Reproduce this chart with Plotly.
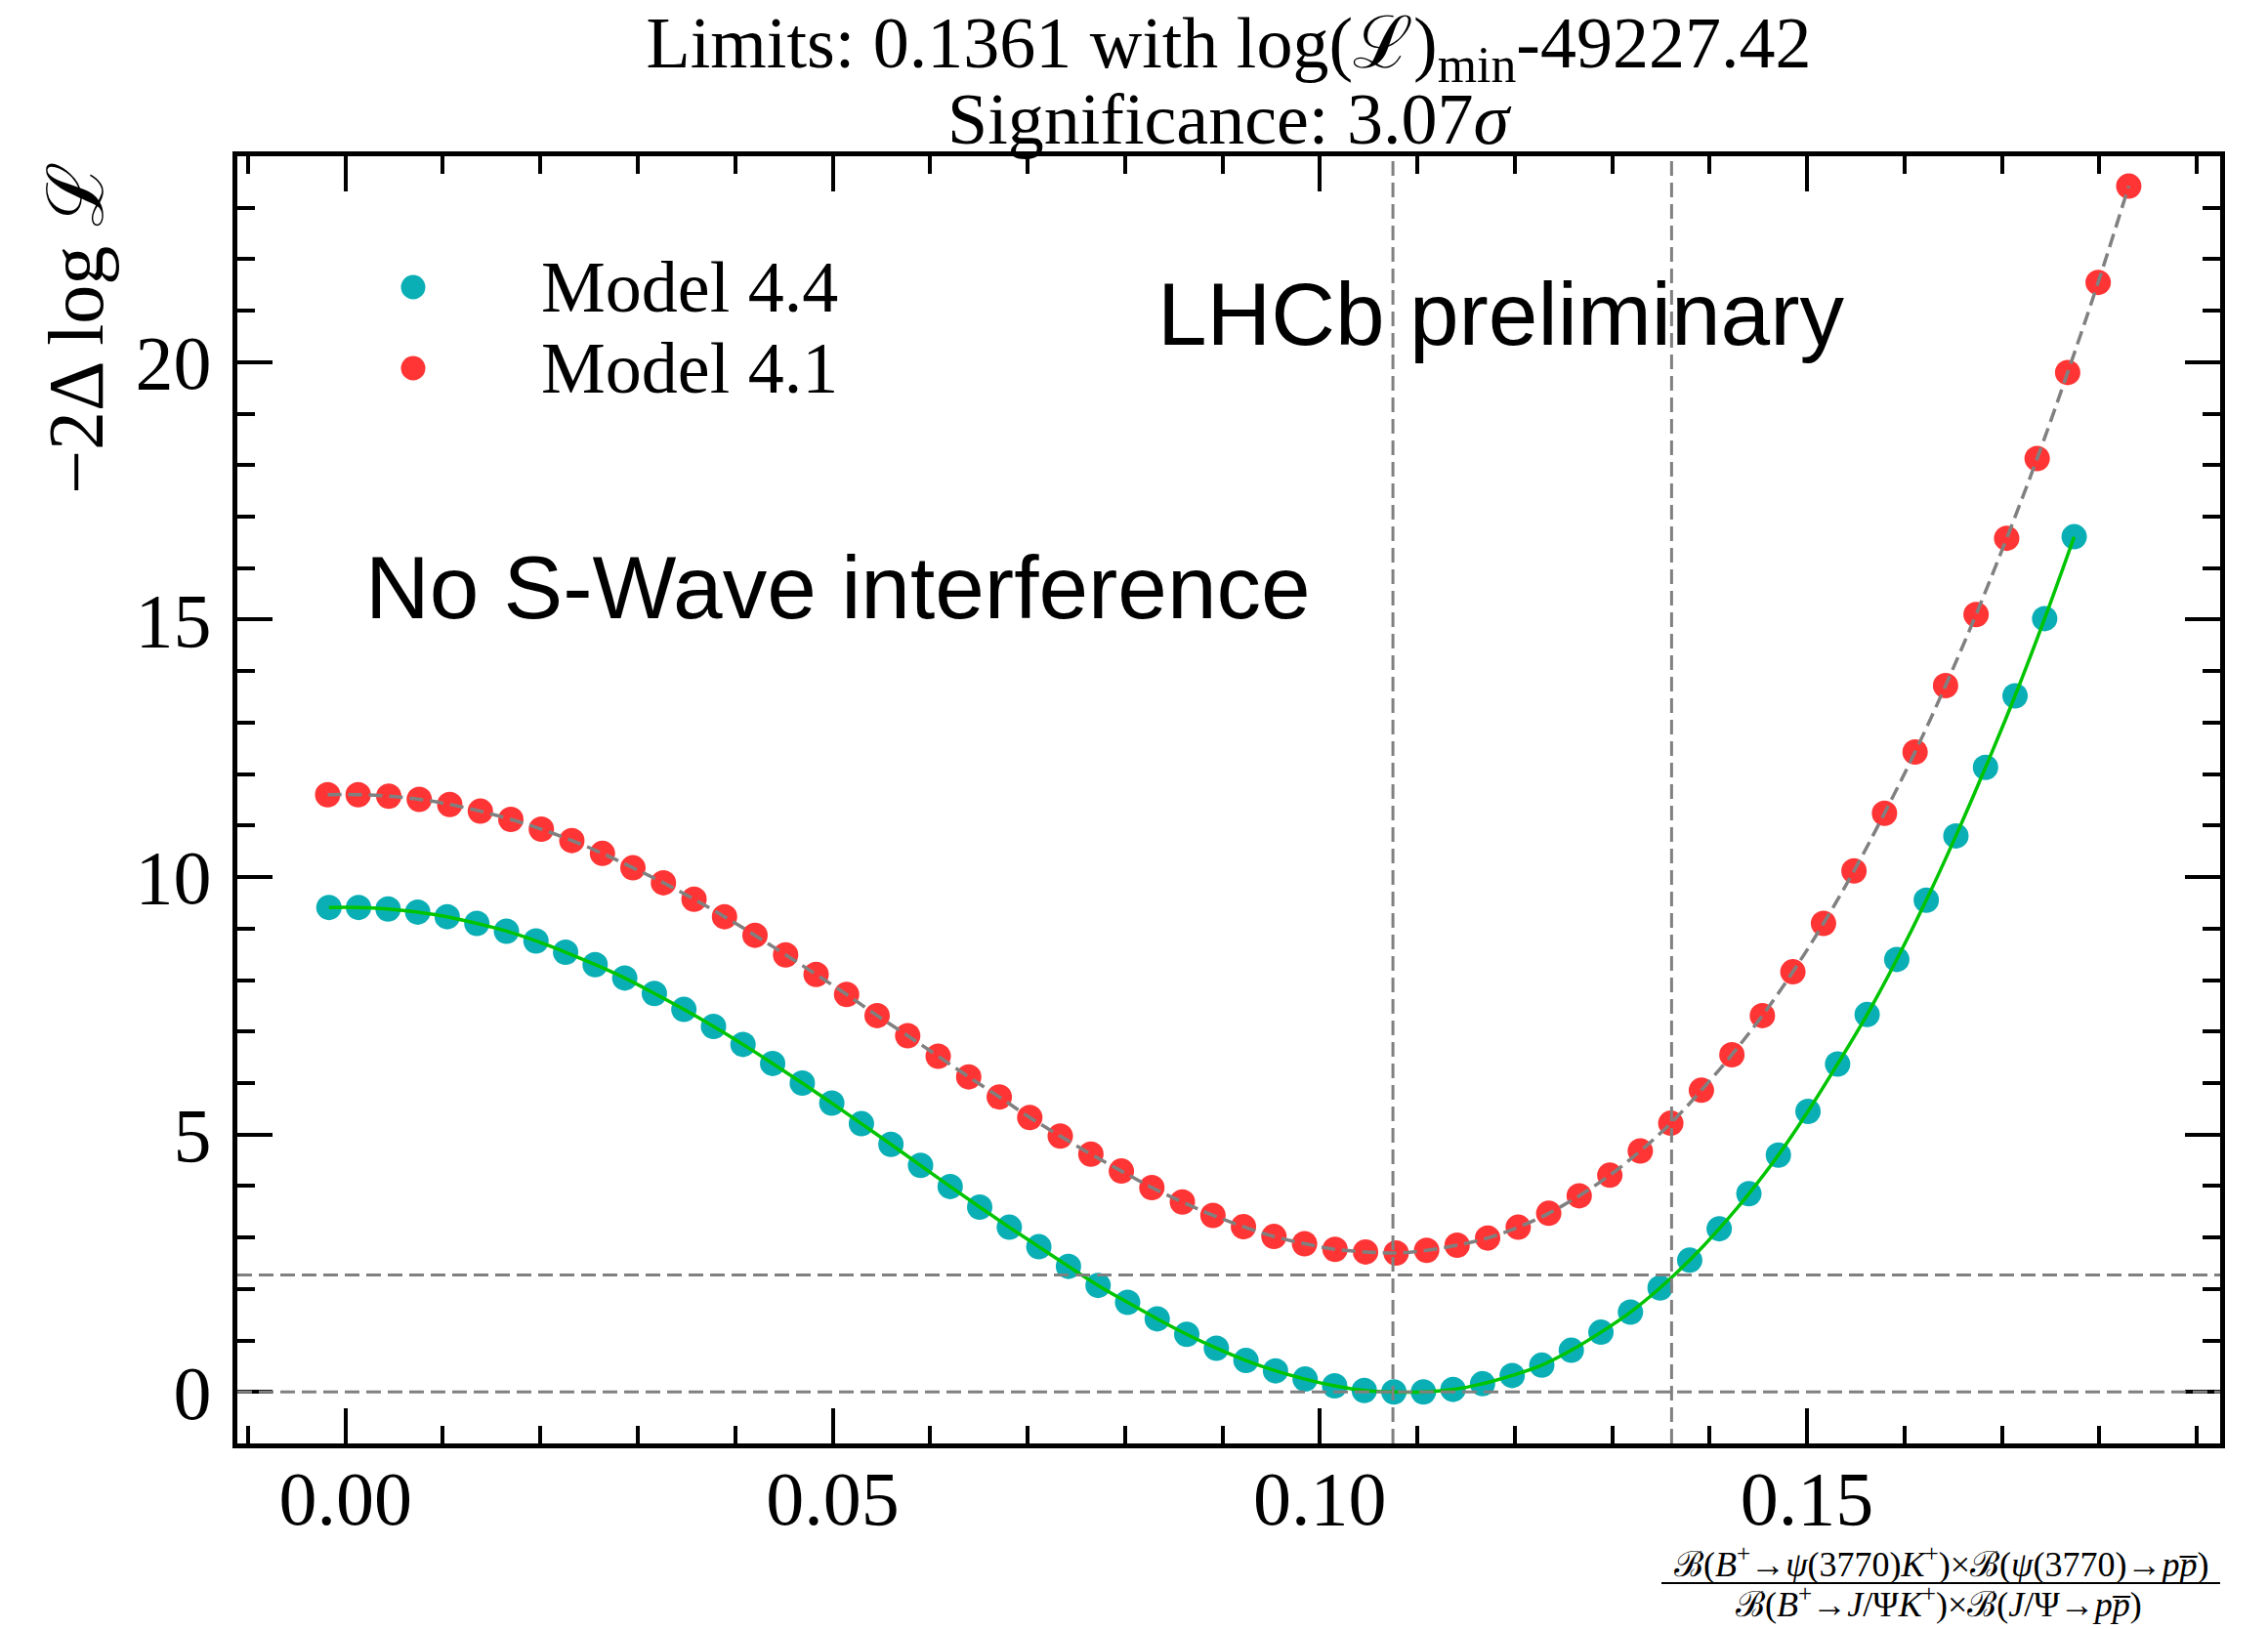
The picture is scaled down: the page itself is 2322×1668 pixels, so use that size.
import plotly.graph_objects as go

# ---------------- data ----------------
x_model44 = [-0.00170, 0.00134, 0.00437, 0.00741, 0.01044, 0.01348, 0.01652, 0.01955, 0.02259, 0.02562,
             0.02866, 0.03170, 0.03473, 0.03777, 0.04080, 0.04384, 0.04688, 0.04991, 0.05295, 0.05598,
             0.05902, 0.06206, 0.06509, 0.06813, 0.07116, 0.07420, 0.07724, 0.08027, 0.08331, 0.08634,
             0.08938, 0.09242, 0.09545, 0.09849, 0.10152, 0.10456, 0.10760, 0.11063, 0.11367, 0.11670,
             0.11974, 0.12278, 0.12581, 0.12885, 0.13188, 0.13492, 0.13796, 0.14099, 0.14403, 0.14706,
             0.15010, 0.15314, 0.15617, 0.15921, 0.16224, 0.16528, 0.16832, 0.17135, 0.17439, 0.17742]
y_model44 = [9.41, 9.41, 9.38, 9.32, 9.23, 9.10, 8.95, 8.76, 8.54, 8.30,
             8.04, 7.74, 7.43, 7.10, 6.75, 6.38, 6.00, 5.61, 5.21, 4.81,
             4.40, 3.99, 3.59, 3.20, 2.82, 2.44, 2.07, 1.74, 1.42, 1.12,
             0.85, 0.61, 0.41, 0.25, 0.12, 0.03, 0.00, 0.00, 0.05, 0.16,
             0.32, 0.52, 0.81, 1.16, 1.55, 2.02, 2.56, 3.17, 3.85, 4.60,
             5.45, 6.37, 7.33, 8.40, 9.55, 10.80, 12.13, 13.52, 15.02, 16.61]

x_model41 = [-0.00183, 0.00130, 0.00444, 0.00757, 0.01070, 0.01384, 0.01697, 0.02010, 0.02323, 0.02637,
             0.02950, 0.03263, 0.03577, 0.03890, 0.04203, 0.04517, 0.04830, 0.05143, 0.05456, 0.05770,
             0.06083, 0.06396, 0.06710, 0.07023, 0.07336, 0.07650, 0.07963, 0.08276, 0.08589, 0.08903,
             0.09216, 0.09529, 0.09843, 0.10156, 0.10469, 0.10783, 0.11096, 0.11409, 0.11722, 0.12036,
             0.12349, 0.12662, 0.12976, 0.13289, 0.13602, 0.13916, 0.14229, 0.14542, 0.14855, 0.15169,
             0.15482, 0.15795, 0.16109, 0.16422, 0.16735, 0.17049, 0.17362, 0.17675, 0.17988, 0.18302]
y_model41 = [11.60, 11.60, 11.57, 11.51, 11.41, 11.28, 11.12, 10.93, 10.71, 10.46,
             10.18, 9.89, 9.57, 9.23, 8.87, 8.49, 8.11, 7.72, 7.31, 6.92,
             6.52, 6.12, 5.73, 5.33, 4.97, 4.62, 4.29, 3.97, 3.69, 3.43,
             3.21, 3.02, 2.88, 2.77, 2.72, 2.70, 2.75, 2.85, 2.99, 3.20,
             3.47, 3.81, 4.21, 4.68, 5.22, 5.86, 6.55, 7.31, 8.16, 9.10,
             10.12, 11.24, 12.43, 13.72, 15.10, 16.58, 18.13, 19.80, 21.55, 23.42]

best_fit_x = 0.1075
limit_x = 0.1361
threshold_y = 2.27
zero_y = 0.0

x_range = [-0.0111, 0.1924]
y_range = [-1.0, 24.0]

series_names = ["Model 4.4", "Model 4.1"]
title_line1 = "Limits: 0.1361 with log(ℒ)<sub>min</sub>-49227.42"
title_line2 = "Significance: 3.07<i>σ</i>"
y_label = "−2Δ log ℒ"
x_label_num = "ℬ(<i>B</i><sup>+</sup>→<i>ψ</i>(3770)<i>K</i><sup>+</sup>)×ℬ(<i>ψ</i>(3770)→<i>p</i><i>p̅</i>)"
x_label_den = "ℬ(<i>B</i><sup>+</sup>→<i>J</i>/Ψ<i>K</i><sup>+</sup>)×ℬ(<i>J</i>/Ψ→<i>p</i><i>p̅</i>)"

# ---------------- styling ----------------
W, H = 2322, 1668
ML, MR, MT, MB = 243, 49, 160, 190
TEAL = "#0aafb6"
RED = "#ff3535"
GREEN = "#00c400"
GRAY = "#808080"
SERIF = "Liberation Serif, Times New Roman, DejaVu Serif, serif"
SANS = "Liberation Sans, Arial, Helvetica, sans-serif"


def pxx(xp):
    return (xp - ML) / (W - ML - MR)


def pxy(yp):
    return (H - MB - yp) / (H - MT - MB)


fig = go.Figure()

fig.add_trace(go.Scatter(x=x_model44, y=y_model44, mode="markers", name=series_names[0],
                         marker=dict(color=TEAL, size=26, line=dict(width=0)), showlegend=False))
fig.add_trace(go.Scatter(x=x_model41, y=y_model41, mode="markers", name=series_names[1],
                         marker=dict(color=RED, size=26, line=dict(width=0)), showlegend=False))
fig.add_trace(go.Scatter(x=x_model44, y=y_model44, mode="lines", line_shape="spline",
                         line=dict(color=GREEN, width=3.5), showlegend=False, hoverinfo="skip"))
fig.add_trace(go.Scatter(x=x_model41, y=y_model41, mode="lines", line_shape="spline",
                         line=dict(color=GRAY, width=3.5, dash="14px,7px"), showlegend=False,
                         hoverinfo="skip"))

shapes = []
for xv in (best_fit_x, limit_x):
    shapes.append(dict(type="line", xref="x", yref="paper", x0=xv, x1=xv, y0=0, y1=1,
                       line=dict(color=GRAY, width=3, dash="15px,7px"), layer="above"))
for yv in (zero_y, threshold_y):
    shapes.append(dict(type="line", xref="paper", yref="y", x0=0, x1=1, y0=yv, y1=yv,
                       line=dict(color=GRAY, width=3, dash="15px,7px"), layer="above"))

# legend symbols
leg_rows = [(294, TEAL), (377, RED)]
for yc, col in leg_rows:
    shapes.append(dict(type="circle", xref="paper", yref="paper", xsizemode="pixel", ysizemode="pixel",
                       xanchor=pxx(423), yanchor=pxy(yc), x0=-12.5, x1=12.5, y0=-12.5, y1=12.5,
                       fillcolor=col, line=dict(width=0)))

# fraction bar of the x label
shapes.append(dict(type="line", xref="paper", yref="paper", x0=pxx(1701), x1=pxx(2273),
                   y0=pxy(1621), y1=pxy(1621), line=dict(color="black", width=2)))

annotations = []
# legend texts
for (yc, _), nm in zip(leg_rows, series_names):
    annotations.append(dict(text=nm, xref="paper", yref="paper", x=pxx(552), y=pxy(yc),
                            xanchor="left", yanchor="middle", showarrow=False,
                            font=dict(family=SERIF, size=74, color="black")))
# texts in the plot
annotations.append(dict(text="LHCb preliminary", xref="paper", yref="paper", x=pxx(1183), y=pxy(321),
                        xanchor="left", yanchor="middle", showarrow=False,
                        font=dict(family=SANS, size=91, color="black")))
annotations.append(dict(text="No S-Wave interference", xref="paper", yref="paper", x=pxx(372), y=pxy(601),
                        xanchor="left", yanchor="middle", showarrow=False,
                        font=dict(family=SANS, size=91, color="black")))
# title second line
annotations.append(dict(text=title_line2, xref="paper", yref="paper", x=0.5, y=pxy(122),
                        xanchor="center", yanchor="middle", showarrow=False,
                        font=dict(family=SERIF, size=74, color="black")))
# y label (top aligned)
annotations.append(dict(text=y_label, xref="paper", yref="paper", x=pxx(78), y=pxy(336),
                        xanchor="center", yanchor="middle", showarrow=False, textangle=-90,
                        font=dict(family=SERIF, size=80, color="black")))
# x label fraction
annotations.append(dict(text=x_label_num, xref="paper", yref="paper", x=pxx(1987), y=pxy(1600),
                        xanchor="center", yanchor="middle", showarrow=False,
                        font=dict(family=SERIF, size=36, color="black")))
annotations.append(dict(text=x_label_den, xref="paper", yref="paper", x=pxx(1985), y=pxy(1640),
                        xanchor="center", yanchor="middle", showarrow=False,
                        font=dict(family=SERIF, size=36, color="black")))

axis_common = dict(showgrid=False, zeroline=False, showline=True, linecolor="black", linewidth=5,
                   mirror="allticks", ticks="inside", ticklen=36, tickwidth=4, tickcolor="black",
                   tickfont=dict(family=SERIF, size=78, color="black"))

fig.update_layout(
    width=W, height=H,
    margin=dict(l=ML, r=MR, t=MT, b=MB, pad=0),
    paper_bgcolor="white", plot_bgcolor="white",
    title=dict(text=title_line1, x=0.5, xref="paper", xanchor="center",
               y=1 - 43 / H, yref="container", yanchor="middle",
               font=dict(family=SERIF, size=74, color="black")),
    xaxis=dict(range=x_range, tickmode="linear", tick0=0, dtick=0.05, tickformat=".2f",
               ticklabelstandoff=-16,
               minor=dict(ticks="inside", ticklen=18, tickwidth=4, tickcolor="black",
                          tickmode="linear", tick0=0, dtick=0.01, showgrid=False),
               **axis_common),
    yaxis=dict(range=y_range, tickmode="linear", tick0=0, dtick=5,
               ticklabelstandoff=6,
               minor=dict(ticks="inside", ticklen=18, tickwidth=4, tickcolor="black",
                          tickmode="linear", tick0=0, dtick=1, showgrid=False),
               **axis_common),
    shapes=shapes,
    annotations=annotations,
    showlegend=False,
)

fig.write_html("out.html",
               config={"displayModeBar": False},
               post_script="document.body.style.margin='0';document.body.style.overflow='hidden';")
